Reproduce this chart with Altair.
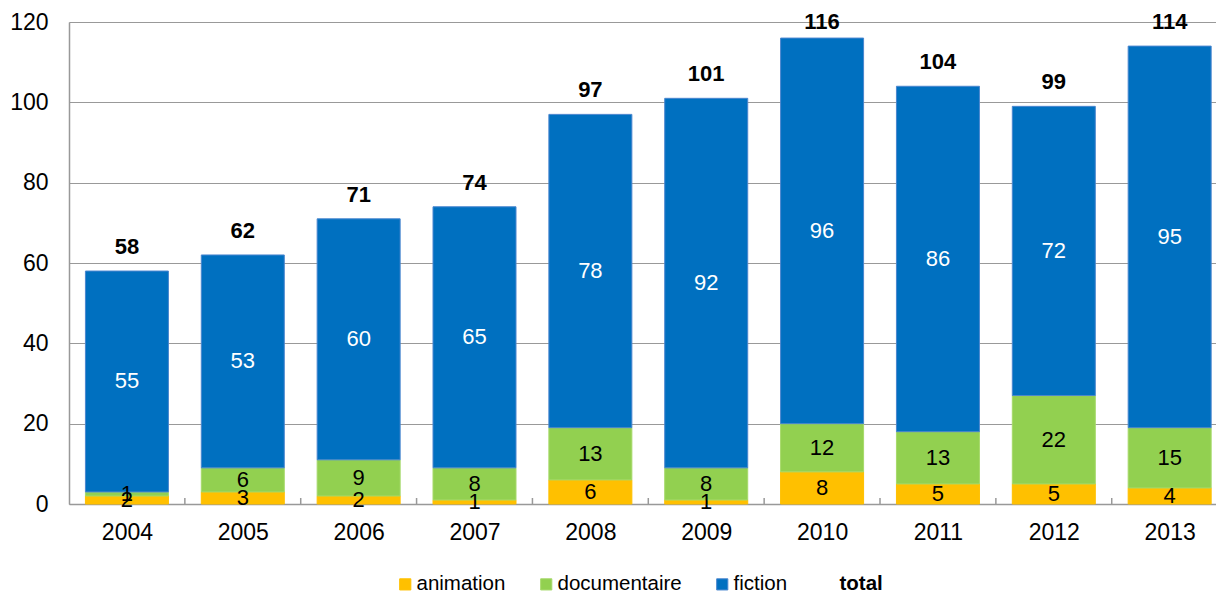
import altair as alt
import pandas as pd

years = [2004, 2005, 2006, 2007, 2008, 2009, 2010, 2011, 2012, 2013]
animation = [2, 3, 2, 1, 6, 1, 8, 5, 5, 4]
documentaire = [1, 6, 9, 8, 13, 8, 12, 13, 22, 15]
fiction = [55, 53, 60, 65, 78, 92, 96, 86, 72, 95]
total = [58, 62, 71, 74, 97, 101, 116, 104, 99, 114]

series_names = ["animation", "documentaire", "fiction", "total"]
fill_colors = ["#FFC000", "#92D050", "#0070C0", "rgba(0,0,0,0)"]
stroke_colors = ["#FFC000", "#A6D96A", "#4A86CF", "rgba(0,0,0,0)"]

rows = []
for i, y in enumerate(years):
    rows.append({"year": y, "series": "animation", "order": 0, "value": animation[i]})
    rows.append({"year": y, "series": "documentaire", "order": 1, "value": documentaire[i]})
    rows.append({"year": y, "series": "fiction", "order": 2, "value": fiction[i]})
df = pd.DataFrame(rows)
tot = pd.DataFrame({"year": years, "total": total})
edges = pd.DataFrame({"year": years[:-1]})

FONT = "Liberation Sans"
W, H = 1147, 482

xscale = alt.Scale(domain=[2003.5, 2013.4], nice=False, zero=False, padding=0)
yscale = alt.Scale(domain=[0, 120], nice=False)

color = alt.Color(
    "series:N",
    scale=alt.Scale(domain=series_names, range=fill_colors),
    legend=alt.Legend(
        title=None,
        orient="none",
        direction="horizontal",
        legendX=326,
        legendY=552,
        symbolType="square",
        symbolSize=125,
        symbolStrokeWidth=1,
        labelFont=FONT,
        labelFontSize=20.5,
        labelColor="#000000",
        labelFontWeight={"expr": "datum.label == 'total' ? 'bold' : 'normal'"},
        columnPadding=30,
        labelOffset=1,
        padding=0,
    ),
)

bars = alt.Chart(df).mark_bar(size=83, strokeWidth=1).encode(
    x=alt.X(
        "year:Q",
        scale=xscale,
        axis=alt.Axis(
            title=None,
            values=years,
            format="d",
            grid=False,
            ticks=False,
            labelFont=FONT,
            labelFontSize=23,
            labelColor="#000000",
            labelPadding=17,
            domainColor="#999999",
            domainWidth=1.5,
        ),
    ),
    y=alt.Y(
        "value:Q",
        stack="zero",
        scale=yscale,
        axis=alt.Axis(
            title=None,
            values=[0, 20, 40, 60, 80, 100, 120],
            grid=True,
            gridColor="#999999",
            gridWidth=1.2,
            ticks=False,
            labelFont=FONT,
            labelFontSize=23,
            labelColor="#000000",
            labelPadding=21,
            domainColor="#999999",
            domainWidth=1.5,
        ),
    ),
    color=color,
    stroke=alt.Stroke("series:N", scale=alt.Scale(domain=series_names, range=stroke_colors), legend=None),
    order=alt.Order("order:Q", sort="ascending"),
)

labels = alt.Chart(df).transform_stack(
    stack="value", groupby=["year"], as_=["y0", "y1"], sort=[alt.SortField("order", order="ascending")]
).transform_calculate(
    mid="(datum.y0 + datum.y1) / 2"
).mark_text(font=FONT, fontSize=22, baseline="middle", align="center").encode(
    x=alt.X("year:Q", scale=xscale),
    y=alt.Y("mid:Q", scale=yscale),
    text=alt.Text("value:Q"),
    color=alt.condition("datum.series == 'fiction'", alt.value("#FFFFFF"), alt.value("#000000")),
)

totals = alt.Chart(tot).transform_calculate(
    labelpos="min(datum.total, 114)"
).mark_text(
    font=FONT, fontSize=22, fontWeight="bold", baseline="bottom", align="center", dy=-12, color="#000000"
).encode(
    x=alt.X("year:Q", scale=xscale),
    y=alt.Y("labelpos:Q", scale=yscale),
    text=alt.Text("total:Q"),
)

ticks = alt.Chart(edges).transform_calculate(
    edge="datum.year + 0.5"
).mark_rule(color="#999999", strokeWidth=1.5).encode(
    x=alt.X("edge:Q", scale=xscale),
    y=alt.value(H - 6),
    y2=alt.value(H),
)

chart = alt.layer(bars, labels, totals, ticks).properties(
    width=W,
    height=H,
    autosize=alt.AutoSizeParams(type="none"),
    padding={"left": 69, "top": 22, "right": 0, "bottom": 89},
).configure_view(stroke=None).configure(background="#FFFFFF")

chart.save("out.html", embed_options={"renderer": "svg", "actions": False})
